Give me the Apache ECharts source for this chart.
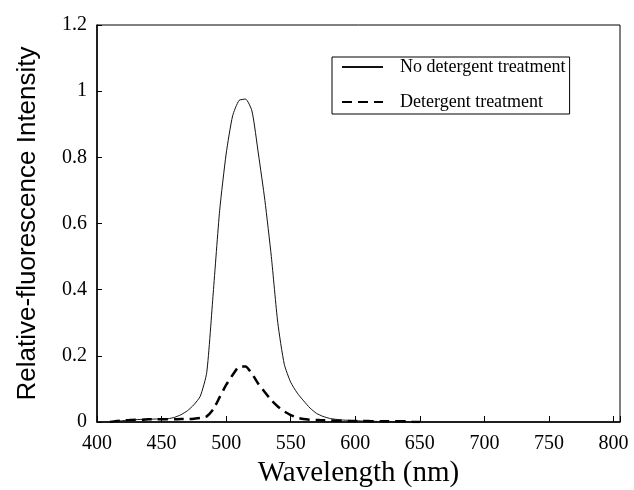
<!DOCTYPE html>
<html>
<head>
<meta charset="utf-8">
<script src="https://cdn.jsdelivr.net/npm/echarts@6/dist/echarts.min.js"></script>
<style>
    html, body { margin: 0; padding: 0; background: #fff; }
    #chart { width: 634px; height: 490px; }
</style>
</head>
<body>
<div id="chart"></div>
<script>
    // wavelength (nm), 5 nm steps
    var wavelengths = [410, 415, 420, 425, 430, 435, 440, 445, 450, 455,
        460, 465, 470, 475, 480, 485, 490, 495, 500, 505,
        510, 515, 520, 525, 530, 535, 540, 545, 550, 555,
        560, 565, 570, 575, 580, 585, 590, 595, 600, 605,
        610, 615, 620, 625, 630, 635, 640, 645, 650];

    var noDetergent = [0.000, 0.002, 0.004, 0.006, 0.007, 0.008, 0.008, 0.009, 0.009, 0.010,
        0.014, 0.022, 0.034, 0.052, 0.078, 0.150, 0.390, 0.640, 0.810, 0.925,
        0.972, 0.976, 0.940, 0.810, 0.670, 0.500, 0.300, 0.175, 0.120, 0.088,
        0.064, 0.042, 0.026, 0.017, 0.011, 0.008, 0.006, 0.005, 0.004, 0.003,
        0.002, 0.002, 0.001, 0.001, 0.001, 0.000, 0.000, 0.000, 0.000];

    var detergent = [0.000, 0.003, 0.005, 0.006, 0.007, 0.007, 0.008, 0.008, 0.008, 0.008,
        0.008, 0.009, 0.009, 0.010, 0.012, 0.017, 0.038, 0.075, 0.112, 0.142,
        0.167, 0.168, 0.146, 0.115, 0.090, 0.066, 0.047, 0.032, 0.021, 0.013,
        0.009, 0.007, 0.006, 0.005, 0.005, 0.004, 0.004, 0.003, 0.003, 0.003,
        0.003, 0.002, 0.002, 0.002, 0.002, 0.002, 0.002, 0.000, 0.000];

    var seriesNames = ["No detergent treatment", "Detergent treatment"];

    function pairs(xs, ys) {
        return xs.map(function (x, i) { return [x, ys[i]]; });
    }

    var serif = "Liberation Serif";
    var myChart = echarts.init(document.getElementById("chart"));

    var option = {
        backgroundColor: "#fff",
        animation: false,
        grid: {
            left: 97,
            right: 14,
            top: 25,
            bottom: 68,
            outerBoundsMode: "none", // keep the plot box where it is
            show: true,
            borderColor: "#000",
            borderWidth: 1
        },
        legend: {
            orient: "vertical",
            left: 332,
            top: 57,
            padding: [1, 4, 3, 9],
            itemWidth: 41,
            itemHeight: 18,
            itemGap: 17,
            borderColor: "#000",
            borderWidth: 1,
            itemStyle: { opacity: 0 }, // line sample only, no marker
            textStyle: {
                fontFamily: serif,
                fontSize: 18,
                color: "#000",
                lineHeight: 18,
                padding: [0, 0, 0, 12]
            },
            data: seriesNames
        },
        xAxis: {
            type: "value",
            min: 400,
            max: 805,
            interval: 50,
            name: "Wavelength (nm)",
            nameLocation: "middle",
            nameGap: 33,
            nameTextStyle: { fontFamily: serif, fontSize: 29, color: "#000" },
            axisLine: { lineStyle: { color: "#000", width: 1.5 } },
            axisTick: { inside: true, length: 6, lineStyle: { color: "#000" } },
            axisLabel: {
                fontFamily: serif,
                fontSize: 20,
                color: "#000",
                margin: 12,
                formatter: function (v) { return v % 50 === 0 ? String(v) : ""; }
            },
            splitLine: { show: false }
        },
        yAxis: {
            type: "value",
            min: 0,
            max: 1.2,
            interval: 0.2,
            name: "Relative-fluorescence Intensity",
            nameLocation: "middle",
            nameGap: 56,
            nameTextStyle: { fontFamily: "Liberation Sans", fontSize: 26, color: "#000" },
            axisLine: { lineStyle: { color: "#000", width: 1.5 } },
            axisTick: { inside: true, length: 5, lineStyle: { color: "#000" } },
            axisLabel: { fontFamily: serif, fontSize: 20, color: "#000", margin: 10 },
            splitLine: { show: false }
        },
        series: [
            {
                name: seriesNames[0],
                type: "line",
                showSymbol: false,
                symbol: "none",
                smooth: 0.2,
                lineStyle: { color: "#111", width: 1 },
                itemStyle: { color: "#111" },
                data: pairs(wavelengths, noDetergent)
            },
            {
                name: seriesNames[1],
                type: "line",
                showSymbol: false,
                symbol: "none",
                smooth: 0.2,
                lineStyle: { color: "#000", width: 2.5, type: [10, 6] },
                itemStyle: { color: "#000" },
                data: pairs(wavelengths, detergent)
            }
        ]
    };

    myChart.setOption(option);
</script>
</body>
</html>
